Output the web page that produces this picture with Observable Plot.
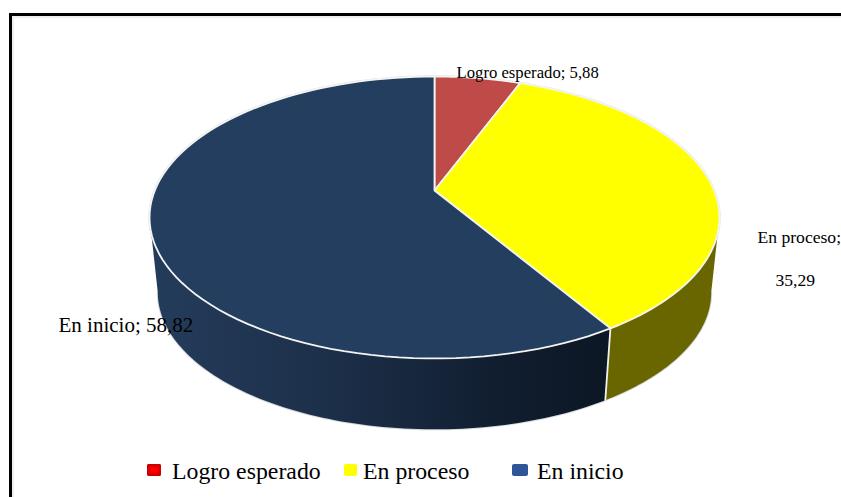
<!DOCTYPE html>
<html>
<head>
<meta charset="utf-8">
<script src="https://cdn.jsdelivr.net/npm/d3@7"></script>
<script src="https://cdn.jsdelivr.net/npm/@observablehq/plot@0.6"></script>
<style>
html,body{margin:0;padding:0;background:#fff;overflow:hidden}
#page{position:relative;width:841px;height:497px;overflow:hidden;font-family:"Liberation Serif",serif;color:#000}
#frame{position:absolute;left:9px;top:13px;width:900px;height:600px;border:3px solid #000;box-shadow:inset 2px 2px 1px #eee;box-sizing:border-box}
#chart{position:absolute;left:0;top:0}
#legend{position:absolute;left:0;top:450px;width:841px;height:47px}
.li{position:absolute;top:8px;font-size:23.8px;line-height:26px;white-space:nowrap}
.sw{position:absolute;top:14px;border-radius:2px}
</style>
</head>
<body>
<div id="page"><div id="frame"></div><div id="chart"></div><div id="legend"></div></div>
<script>
// Data
const categories = ["Logro esperado", "En proceso", "En inicio"];
const values = [5.88, 35.29, 58.82];
const valueLabels = ["5,88", "35,29", "58,82"];
// Styles
const topColors = ["#be4b48", "#ffff00", "#233e5f"];
const sideColors = ["#7f3230", "#696600", "url(#navySide)"];
const legendColors = ["#ff0000", "#ffff00", "#2f5597"];

// Perspective of the pie
const k = 0.1915;            // foreshortening of the far half
const depthScale = 0.971;    // lower face is slightly smaller
const ellipseY = -0.199;     // rim ellipse centre in pie units
const lowerY = -0.751;       // lower ellipse centre in pie units

const total = d3.sum(values);
let acc = 0;
const slices = categories.map((c, i) => {
  const s = acc / total * 2 * Math.PI;
  acc += values[i];
  return {name: c, i, start: s, end: acc / total * 2 * Math.PI};
});
const rim = (t) => {
  const u = Math.sin(t), v = Math.cos(t), w = 1 + k * v;
  return [u / w, v / w];
};
const low = (t) => {
  const [x, y] = rim(t);
  return [depthScale * x, lowerY + depthScale * (y - ellipseY)];
};
const range = (a, b, n = 90) => d3.range(n + 1).map(j => a + (b - a) * j / n);

// Top-face wedges
const topPts = slices.flatMap(s => [[0, 0], ...range(s.start, s.end).map(rim), [0, 0]]
  .map(([x, y]) => ({x, y, key: s.name, fill: topColors[s.i]})));

// Visible side walls: from the right silhouette to the left silhouette
const rightEdge = Math.acos(-k), leftEdge = 2 * Math.PI - rightEdge;
const sideSegs = slices.map(s => ({...s, a: Math.max(s.start, rightEdge), b: Math.min(s.end, leftEdge)})).filter(s => s.b > s.a);
const sidePts = sideSegs.flatMap(s => [...range(s.a, s.b).map(rim), ...range(s.b, s.a).map(low)]
  .map(([x, y]) => ({x, y, key: s.name, fill: sideColors[s.i]})));
const seamPts = sideSegs.slice(1).flatMap(s => [rim(s.a), low(s.a)].map(([x, y]) => ({x, y})));
const outlinePts = [...range(rightEdge, leftEdge, 180).map(low)].map(([x, y]) => ({x, y}));
const rimPts = range(0, 2 * Math.PI, 360).map(rim).map(([x, y]) => ({x, y}));

const gradient = () => {
  const svg = d3.create("svg:g");
  const g = svg.append("defs").append("linearGradient").attr("id", "navySide");
  [[0, "#243c5b"], [0.4, "#1c2f49"], [0.75, "#111e30"], [1, "#0c1724"]].forEach(([o, c]) =>
    g.append("stop").attr("offset", o).attr("stop-color", c));
  return svg.node();
};

const label = (text, left, top, size) => Plot.text([text], {
  text: d => d, frameAnchor: "top-left", dx: left, dy: top, fontSize: size,
  fontFamily: "Liberation Serif", fill: "#000", textAnchor: "start", lineAnchor: "middle"
});

const chart = Plot.plot({
  width: 841, height: 450, margin: 0,
  x: {domain: [-1, 1], range: [154.3, 713.7], axis: null},
  y: {domain: [-1, 1], range: [325.8, 54.2], axis: null},
  style: {background: "transparent", overflow: "visible"},
  marks: [
    gradient,
    Plot.line(outlinePts, {x: "x", y: "y", stroke: "#d5d9de", strokeWidth: 2, curve: "linear"}),
    Plot.line(rimPts, {x: "x", y: "y", stroke: "#dfe3e8", strokeWidth: 2.5, curve: "linear"}),
    Plot.line(sidePts, {x: "x", y: "y", z: "key", fill: "fill", stroke: null, curve: "linear"}),
    Plot.line(seamPts, {x: "x", y: "y", stroke: "#f2f2f2", strokeWidth: 1.8, curve: "linear"}),
    Plot.line(topPts, {x: "x", y: "y", z: "key", fill: "fill", stroke: "#f4f4f4", strokeWidth: 1.8, curve: "linear", strokeLinejoin: "round"}),
    label(`${categories[0]}; ${valueLabels[0]}`, 456, 72, 16.7),
    label(`${categories[1]};`, 757, 237, 17.6),
    label(valueLabels[1], 775, 280, 17.6),
    label(`${categories[2]}; ${valueLabels[2]}`, 58, 325, 21)
  ]
});
document.getElementById("chart").append(chart);

// Legend
const legend = document.getElementById("legend");
const legendText = [172, 363, 537], legendSwatch = [[147, 14], [344, 13], [512, 16]];
categories.forEach((c, i) => {
  const sw = document.createElement("div");
  sw.className = "sw";
  sw.style.cssText = `left:${legendSwatch[i][0]}px;width:${legendSwatch[i][1]}px;height:12px;background:${legendColors[i]}`;
  if (i === 0) sw.style.boxShadow = "inset 0 0 3px 2px #c00000";
  legend.append(sw);
  const t = document.createElement("div");
  t.className = "li";
  t.style.left = legendText[i] + "px";
  t.textContent = c;
  legend.append(t);
});
</script>
</body>
</html>
